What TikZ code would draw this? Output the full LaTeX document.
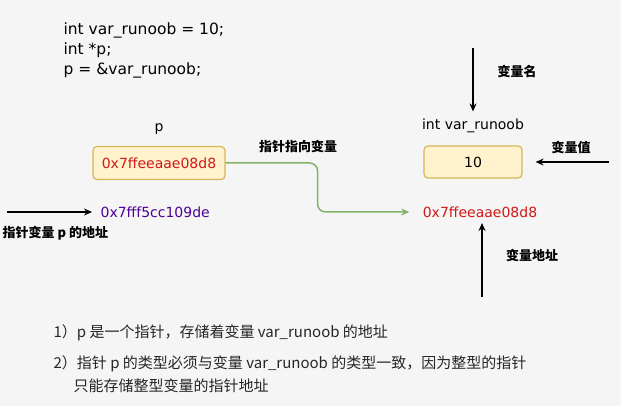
\documentclass[tikz,border=0pt]{standalone}
\usepackage{fontspec}
\setmainfont{DejaVu Sans}
\newfontfamily\cjk{Noto Sans CJK SC}
\definecolor{pagegray}{HTML}{F5F5F5}
\definecolor{cellfill}{HTML}{FFF2CC}
\definecolor{cellline}{HTML}{D6B656}
\definecolor{addrred}{HTML}{D01818}
\definecolor{addrpurple}{HTML}{4C0099}
\definecolor{linkgreen}{HTML}{82B366}
\usetikzlibrary{positioning, arrows.meta}

\begin{document}
\begin{tikzpicture}[x = 1pt, y = -1pt, line width = 1.2pt, >={Stealth[length = 8pt, width = 7pt]},
    cell/.style = {fill = cellfill, draw = cellline, rounded corners = 4pt, minimum height = 33pt, font = \fontsize{14}{16}\selectfont},
    code/.style = {inner sep = 0pt, font = \fontsize{14}{20}\selectfont},
    tag/.style = {inner sep = 0pt, font = \cjk\bfseries\fontsize{13}{15}\selectfont},
    note/.style = {inner sep = 0pt, anchor = west, text = black!85, font = \cjk\fontsize{15}{17}\selectfont}]
      \useasboundingbox[fill = pagegray] (0, 0) rectangle (621, 406);

      \node[code, anchor = west, align = left, font = \fontsize{15.5}{20}\selectfont] (src) at (63, 50) {int var\_runoob = 10;\\int *p;\\p = \&var\_runoob;};

      % pointer p
      \node[code] (pname) at (159, 129) {p};
      \node[cell, minimum width = 132pt, text = addrred] (pbox) at (159, 163) {0x7ffeeaae08d8};
      \node[code, anchor = west, text = addrpurple] (paddr) at (100, 212) {0x7fff5cc109de};
      \node[tag, anchor = west] (ptag) at (2, 233) {指针变量 p 的地址};
      \coordinate (pin) at (7, 212);
      \draw[->, shorten >= 8pt] (pin) -- (paddr.west);

      % variable var_runoob
      \node[code] (vname) at (473, 126) {int var\_runoob};
      \node[cell, minimum width = 98pt, minimum height = 32pt] (vbox) at (473, 162) {10};
      \node[code, text = addrred] (vaddr) at (480, 212) {0x7ffeeaae08d8};

      \node[tag] (nametag) at (517, 71) {变量名};
      \coordinate (ntop) at (473, 48);
      \draw[->, shorten >= 7pt] (ntop) -- (vname.north);

      \node[tag] (valtag) at (571, 147) {变量值};
      \coordinate (vin) at (609, 162);
      \draw[->, shorten >= 13pt] (vin) -- (vbox.east);

      \node[tag] (addrtag) at (532, 255) {变量地址};
      \coordinate (abot) at (482, 297);
      \draw[->, shorten >= 5pt] (abot) -- (abot |- vaddr.south);

      % p points to var_runoob
      \draw[->, linkgreen, line width = 1.5pt, rounded corners = 8pt, shorten >= 13pt] (pbox.east) -- ++(92, 0) |- (vaddr.west);
      \node[tag] (linktag) at (298, 147) {指针指向变量};

      \node[note] (note1) at (53, 333) {1）p 是一个指针，存储着变量 var\_runoob 的地址};
      \node[note] (note2) at (53, 364) {2）指针 p 的类型必须与变量 var\_runoob 的类型一致，因为整型的指针};
      \node[note] (note3) at (73, 386) {只能存储整型变量的指针地址};

    \end{tikzpicture}
\end{document}
